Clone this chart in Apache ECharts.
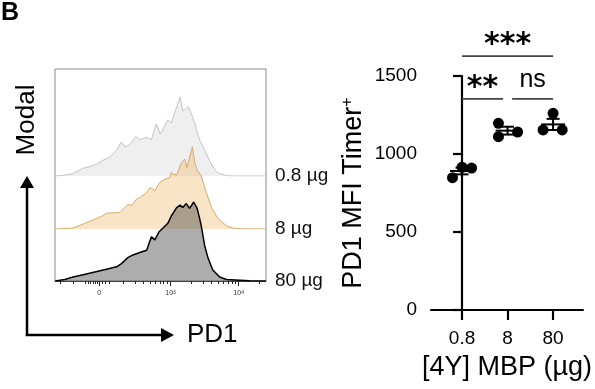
<!DOCTYPE html>
<html><head><meta charset="utf-8">
<script src="https://cdn.jsdelivr.net/npm/echarts@6/dist/echarts.min.js"></script>
<style>html,body{margin:0;padding:0;background:#fff;}#c{width:595px;height:389px;}</style>
</head><body><div id="c"></div>
<script>
const FONT = '"Liberation Sans", Arial, Helvetica, sans-serif';

// ---- Left panel: PD1 histograms (x = position on biexponential PD1 display, in decades; y = % of mode)
const histNames = ['0.8 µg', '8 µg', '80 µg'];
const hist08 = [[1.31,0],[1.45,1],[1.57,3],[1.72,10],[1.82,12],[1.92,15],[2.01,20],[2.11,24],[2.21,33],[2.28,43],[2.33,37],[2.40,39],[2.49,50],[2.55,46],[2.65,49],[2.72,46],[2.79,66],[2.85,53],[2.96,71],[3.01,67],[3.06,80],[3.14,100],[3.18,82],[3.21,84],[3.26,88],[3.30,80],[3.36,66],[3.38,58],[3.43,45],[3.50,33],[3.58,18],[3.62,12],[3.67,6],[3.72,3],[3.77,2],[3.82,0.5],[3.92,0],[4.40,0]];
const hist8 = [[1.31,0],[1.45,0.5],[1.57,1],[1.72,6],[1.87,11],[2.01,16],[2.06,19],[2.26,20],[2.38,30],[2.43,28],[2.50,36],[2.55,38],[2.65,44],[2.70,50],[2.77,46],[2.84,56],[2.92,60],[2.99,62],[3.01,68],[3.04,66],[3.09,65],[3.16,80],[3.21,84],[3.24,74],[3.32,99],[3.36,78],[3.40,70],[3.45,64],[3.50,50],[3.55,38],[3.60,26],[3.70,12],[3.82,4],[3.92,1],[4.02,0.3],[4.40,0]];
const hist80 = [[1.31,0],[1.45,2],[1.57,5],[1.72,8],[1.92,12],[2.06,15],[2.21,18],[2.28,22],[2.38,30],[2.45,33],[2.55,36],[2.65,39],[2.72,56],[2.77,52],[2.83,62],[2.89,67],[2.96,73],[3.01,82],[3.09,93],[3.14,96],[3.18,93],[3.23,98],[3.28,92],[3.34,100],[3.39,92],[3.43,78],[3.45,70],[3.50,45],[3.55,29],[3.62,14],[3.72,5],[3.82,2],[4.02,1],[4.16,0.3],[4.40,0]];
const histXMin = 1.306, histXMax = 4.40;
const histTickValues = [1.955, 3, 4];
const histTickLabels = ['0', '10{s|3}', '10{s|4}'];
const histMinorTicks = [1.38,1.57,1.75,1.79,1.83,1.87,1.90,1.93,2.00,2.05,2.10,2.30,2.48,2.60,2.70,2.78,2.85,2.90,2.95,3.30,3.48,3.60,3.70,3.78,3.85,3.90,3.95,4.30];

// ---- Right panel: PD1 MFI of Timer+ cells
const groups = ['0.8', '8', '80'];
const values08 = [848, 915, 910];
const values8 = [1197, 1111, 1141];
const values80 = [1261, 1154, 1154];
const jitter08 = [-0.21, 0, 0.21];
const jitter8 = [-0.2, -0.2, 0.22];
const jitter80 = [0, -0.22, 0.2];
const yMin = 0, yMax = 1500, yInterval = 500;
// [from group, to group, bracket height (MFI units), label]
const sigBrackets = [[0, 2, 1628, '***'], [0, 0.9, 1353, '**'], [1.1, 2, 1353, 'ns']];

const groupValues = [values08, values8, values80];
const groupJitter = [jitter08, jitter8, jitter80];
const points = [];
groupValues.forEach((vals, gi) => vals.forEach((v, k) => points.push([gi + groupJitter[gi][k], v])));
const meanSem = groupValues.map((vals, gi) => {
  const n = vals.length;
  const m = vals.reduce((a, b) => a + b, 0) / n;
  const sd = Math.sqrt(vals.reduce((a, b) => a + (b - m) * (b - m), 0) / (n - 1));
  return [gi, m, sd / Math.sqrt(n)];
});

const chart = echarts.init(document.getElementById('c'), null, {renderer: 'canvas'});

const histGrids = [
  {left: 55, width: 211, top: 97, height: 79},
  {left: 55, width: 211, top: 146, height: 83},
  {left: 55, width: 211, top: 202, height: 79}
];
const histData = [hist08, hist8, hist80];
const histLine = ['#c4c4c4', '#d6aa68', '#000000'];
const histLineW = [1, 1, 1.5];
const histFill = ['rgba(200,200,200,0.42)', 'rgba(235,170,80,0.45)', 'rgba(60,60,60,0.6)'];

const hiddenX = (gi) => ({gridIndex: gi, type: 'value', min: histXMin, max: histXMax, show: false});
const hiddenY = (gi) => ({gridIndex: gi, type: 'value', min: 0, max: 100, show: false});

const option = {
  animation: false,
  textStyle: {fontFamily: FONT},
  grid: [
    {left: 55, top: 69, width: 211, height: 212, show: true, borderColor: '#8c8c8c', borderWidth: 1, backgroundColor: 'transparent'},
    histGrids[0], histGrids[1], histGrids[2],
    {left: 431, top: 76, width: 158, height: 234}
  ],
  xAxis: [
    hiddenX(0), hiddenX(1), hiddenX(2),
    {gridIndex: 3, type: 'value', min: histXMin, max: histXMax, position: 'bottom',
     axisLine: {show: true, lineStyle: {color: '#444', width: 1}},
     axisTick: {show: true, customValues: histTickValues, length: 5, lineStyle: {color: '#222', width: 1}},
     axisLabel: {show: true, customValues: histTickValues, margin: 9, fontSize: 7, color: '#333',
       formatter: (v) => { const i = histTickValues.findIndex(t => Math.abs(t - v) < 1e-6); return i >= 0 ? histTickLabels[i] : ''; },
       rich: {s: {fontSize: 5, verticalAlign: 'top', color: '#333'}}},
     splitLine: {show: false}},
    {gridIndex: 3, type: 'value', min: histXMin, max: histXMax, position: 'bottom',
     axisLine: {show: false},
     axisTick: {show: true, customValues: histMinorTicks, length: 3, lineStyle: {color: '#222', width: 1}},
     axisLabel: {show: false}, splitLine: {show: false}},
    {gridIndex: 4, type: 'value', min: -0.682, max: 2.655,
     axisLine: {show: true, lineStyle: {color: '#000', width: 2.2, opacity: 1}},
     axisTick: {show: true, customValues: [0, 1, 2], length: 10, lineStyle: {color: '#000', width: 2.2}},
     axisLabel: {show: true, customValues: [0, 1, 2], formatter: (v) => groups[Math.round(v)], fontSize: 19, color: '#000', margin: 19},
     splitLine: {show: false},
     name: '[4Y] MBP (µg)', nameLocation: 'middle', nameGap: 44,
     nameTextStyle: {fontSize: 27, color: '#000'}}
  ],
  yAxis: [
    hiddenY(0), hiddenY(1), hiddenY(2), hiddenY(3),
    {gridIndex: 4, type: 'value', min: yMin, max: yMax, interval: yInterval,
     axisLine: {show: true, lineStyle: {color: '#000', width: 2.2, opacity: 1}},
     axisTick: {show: true, length: 9, lineStyle: {color: '#000', width: 2.2}},
     axisLabel: {fontSize: 19, color: '#000', margin: 14, formatter: (v) => String(v)},
     splitLine: {show: false},
     name: 'PD1 MFI Timer{sup|+}', nameLocation: 'middle', nameGap: 64,
     nameTextStyle: {fontSize: 27, color: '#000', rich: {sup: {fontSize: 16, verticalAlign: 'top', color: '#000'}}}}
  ],
  series: [
    ...histData.map((d, i) => ({
      type: 'line', name: histNames[i], xAxisIndex: i + 1, yAxisIndex: i + 1,
      data: d, symbol: 'none', smooth: false, z: 2 + i,
      lineStyle: {color: histLine[i], width: histLineW[i]},
      areaStyle: {color: histFill[i], origin: 'start'},
      endLabel: {show: true, formatter: (p) => p.seriesName, fontSize: 19, color: '#111', distance: 9, fontFamily: FONT}
    })),
    {type: 'scatter', xAxisIndex: 5, yAxisIndex: 4, data: points, symbolSize: 11,
     itemStyle: {color: '#000', opacity: 1}, z: 3},
    {type: 'custom', xAxisIndex: 5, yAxisIndex: 4, data: meanSem, z: 4,
     renderItem: (params, api) => {
       const c = api.coord([api.value(0), api.value(1)]);
       const t = api.coord([api.value(0), api.value(1) + api.value(2)]);
       const b = api.coord([api.value(0), api.value(1) - api.value(2)]);
       const st = {stroke: '#000', lineWidth: 2};
       return {type: 'group', children: [
         {type: 'line', shape: {x1: c[0] - 12, y1: c[1], x2: c[0] + 12, y2: c[1]}, style: st},
         {type: 'line', shape: {x1: c[0], y1: t[1], x2: c[0], y2: b[1]}, style: st},
         {type: 'line', shape: {x1: c[0] - 6.5, y1: t[1], x2: c[0] + 6.5, y2: t[1]}, style: st},
         {type: 'line', shape: {x1: c[0] - 6.5, y1: b[1], x2: c[0] + 6.5, y2: b[1]}, style: st}
       ]};
     }},
    {type: 'custom', xAxisIndex: 5, yAxisIndex: 4, data: sigBrackets, clip: false, z: 4,
     renderItem: (params, api) => {
       const item = sigBrackets[params.dataIndex];
       const a = api.coord([item[0], item[2]]);
       const b = api.coord([item[1], item[2]]);
       const isStar = item[3].indexOf('*') >= 0;
       return {type: 'group', children: [
         {type: 'line', shape: {x1: a[0], y1: a[1], x2: b[0], y2: b[1]}, style: {stroke: '#444', lineWidth: 1.8}},
         {type: 'text', style: {text: item[3], x: (a[0] + b[0]) / 2, y: a[1] - (isStar ? 11 : 19),
           align: 'center', verticalAlign: 'middle', fill: '#000',
           font: isStar ? 'bold 30px "DejaVu Sans"' : '25px ' + FONT}}
       ]};
     }}
  ],
  graphic: [
    {type: 'text', left: 1, top: 1, style: {text: 'B', font: 'bold 25px ' + FONT, fill: '#000'}},
    {type: 'text', x: 27, y: 120, rotation: Math.PI / 2,
     style: {text: 'Modal', font: '26px ' + FONT, fill: '#000', align: 'center', verticalAlign: 'middle'}},
    {type: 'line', shape: {x1: 27, y1: 336, x2: 27, y2: 185}, style: {stroke: '#000', lineWidth: 2.5}},
    {type: 'polygon', shape: {points: [[27, 176], [20, 188], [34, 188]]}, style: {fill: '#000'}},
    {type: 'line', shape: {x1: 25.8, y1: 335, x2: 163, y2: 335}, style: {stroke: '#000', lineWidth: 2.5}},
    {type: 'polygon', shape: {points: [[174, 335], [161, 328], [161, 342]]}, style: {fill: '#000'}},
    {type: 'text', x: 187, y: 335, style: {text: 'PD1', font: '26px ' + FONT, fill: '#000', align: 'left', verticalAlign: 'middle'}}
  ]
};
chart.setOption(option);
</script></body></html>
